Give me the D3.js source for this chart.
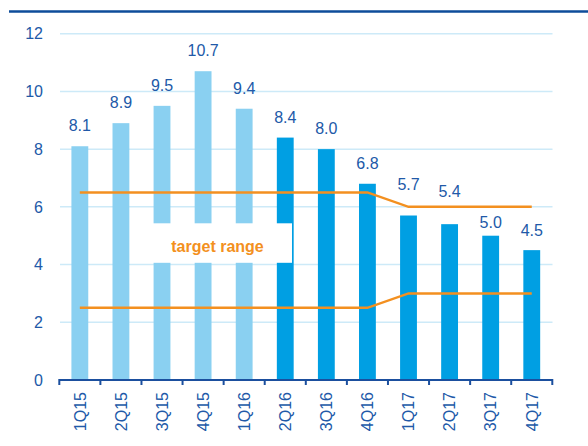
<!DOCTYPE html>
<html>
<head>
<meta charset="utf-8">
<script src="https://cdn.jsdelivr.net/npm/d3@7"></script>
<style>
  html, body { margin: 0; padding: 0; background: #fff; }
  text { font-family: "Liberation Sans", Arial, sans-serif; }
</style>
</head>
<body>
<div id="chart"></div>
<script>
var quarters = ["1Q15", "2Q15", "3Q15", "4Q15", "1Q16", "2Q16", "3Q16", "4Q16", "1Q17", "2Q17", "3Q17", "4Q17"];
var values = [8.1, 8.9, 9.5, 10.7, 9.4, 8.4, 8.0, 6.8, 5.7, 5.4, 5.0, 4.5];
var targetHigh = [6.5, 6.5, 6.5, 6.5, 6.5, 6.5, 6.5, 6.5, 6.0, 6.0, 6.0, 6.0];
var targetLow = [2.5, 2.5, 2.5, 2.5, 2.5, 2.5, 2.5, 2.5, 3.0, 3.0, 3.0, 3.0];
var yTicks = [0, 2, 4, 6, 8, 10, 12];

createchart();

function createchart() {
  var width = 588;
  var height = 446;
  var lightBlue = "#8ad0f1";
  var darkBlue = "#009fe3";
  var textBlue = "#2159a8";
  var axisBlue = "#1b4f9e";
  var orange = "#f39020";

  // gap between bar top and label baseline, most labels sit 15px up
  var labelGap = [15, 15, 15, 15, 15, 15, 15, 15, 26, 27, 8, 14];

  var svg = d3.select("#chart").append("svg")
    .attr("width", width)
    .attr("height", height);

  // header rule (title sits above the crop)
  svg.append("line")
    .attr("x1", 9).attr("x2", width)
    .attr("y1", 11.5).attr("y2", 11.5)
    .attr("stroke", "#0e4c9a")
    .attr("stroke-width", 2.5);

  var x = d3.scaleBand()
    .domain(quarters)
    .range([59.3, 552.3])
    .paddingInner(0.59)
    .paddingOuter(0.295);

  var y = d3.scaleLinear()
    .domain([0, 12])
    .range([380, 33.7]);

  // gridlines
  svg.append("g").selectAll("line")
    .data(yTicks.filter(function (d) { return d > 0; }))
    .enter().append("line")
    .attr("x1", 60).attr("x2", 552.5)
    .attr("y1", function (d) { return y(d); })
    .attr("y2", function (d) { return y(d); })
    .attr("stroke", "#cdeaf8")
    .attr("stroke-width", 1.5);

  // y labels
  svg.append("g").selectAll("text")
    .data(yTicks)
    .enter().append("text")
    .attr("x", 43)
    .attr("y", function (d) { return y(d); })
    .attr("dy", "0.36em")
    .attr("text-anchor", "end")
    .attr("fill", textBlue)
    .attr("font-size", 16)
    .text(function (d) { return d; });

  // bars
  svg.append("g").selectAll("rect")
    .data(values)
    .enter().append("rect")
    .attr("x", function (d, i) { return x(quarters[i]); })
    .attr("y", function (d) { return y(d); })
    .attr("width", x.bandwidth())
    .attr("height", function (d) { return y(0) - y(d); })
    .attr("fill", function (d, i) { return i < 5 ? lightBlue : darkBlue; });

  // value labels
  svg.append("g").selectAll("text")
    .data(values)
    .enter().append("text")
    .attr("x", function (d, i) { return x(quarters[i]) + x.bandwidth() / 2; })
    .attr("y", function (d, i) { return y(d) - labelGap[i]; })
    .attr("text-anchor", "middle")
    .attr("fill", textBlue)
    .attr("font-size", 16)
    .text(function (d) { return d.toFixed(1); });

  // white box behind label
  svg.append("rect")
    .attr("x", 143)
    .attr("y", 223.3)
    .attr("width", 149)
    .attr("height", 39.5)
    .attr("fill", "#fff");

  // target range lines
  var line = d3.line()
    .x(function (d, i) { return x(quarters[i]) + x.bandwidth() / 2; })
    .y(function (d) { return y(d); });

  [targetHigh, targetLow].forEach(function (series) {
    svg.append("path")
      .attr("d", line(series))
      .attr("fill", "none")
      .attr("stroke", orange)
      .attr("stroke-width", 2.5);
  });

  svg.append("text")
    .attr("x", 217.5)
    .attr("y", 251.5)
    .attr("text-anchor", "middle")
    .attr("fill", orange)
    .attr("font-size", 16)
    .attr("font-weight", "bold")
    .text("target range");

  // x axis
  var ax = svg.append("g");
  ax.append("line")
    .attr("x1", 59.3).attr("x2", 552.3)
    .attr("y1", 380).attr("y2", 380)
    .attr("stroke", axisBlue)
    .attr("stroke-width", 2);

  var bounds = quarters.map(function (q) { return x(q) - x.step() * x.paddingInner() / 2; });
  bounds.push(552.3);
  bounds[0] = 59.3;
  ax.selectAll("line.tick")
    .data(bounds)
    .enter().append("line")
    .attr("class", "tick")
    .attr("x1", function (d) { return d; })
    .attr("x2", function (d) { return d; })
    .attr("y1", 379).attr("y2", 385)
    .attr("stroke", axisBlue)
    .attr("stroke-width", 2);

  ax.selectAll("text")
    .data(quarters)
    .enter().append("text")
    .attr("transform", function (d) {
      return "translate(" + (x(d) + x.bandwidth() / 2) + ",392) rotate(-90)";
    })
    .attr("dy", "0.36em")
    .attr("text-anchor", "end")
    .attr("fill", textBlue)
    .attr("font-size", 16)
    .text(function (d) { return d; });
}
</script>
</body>
</html>
